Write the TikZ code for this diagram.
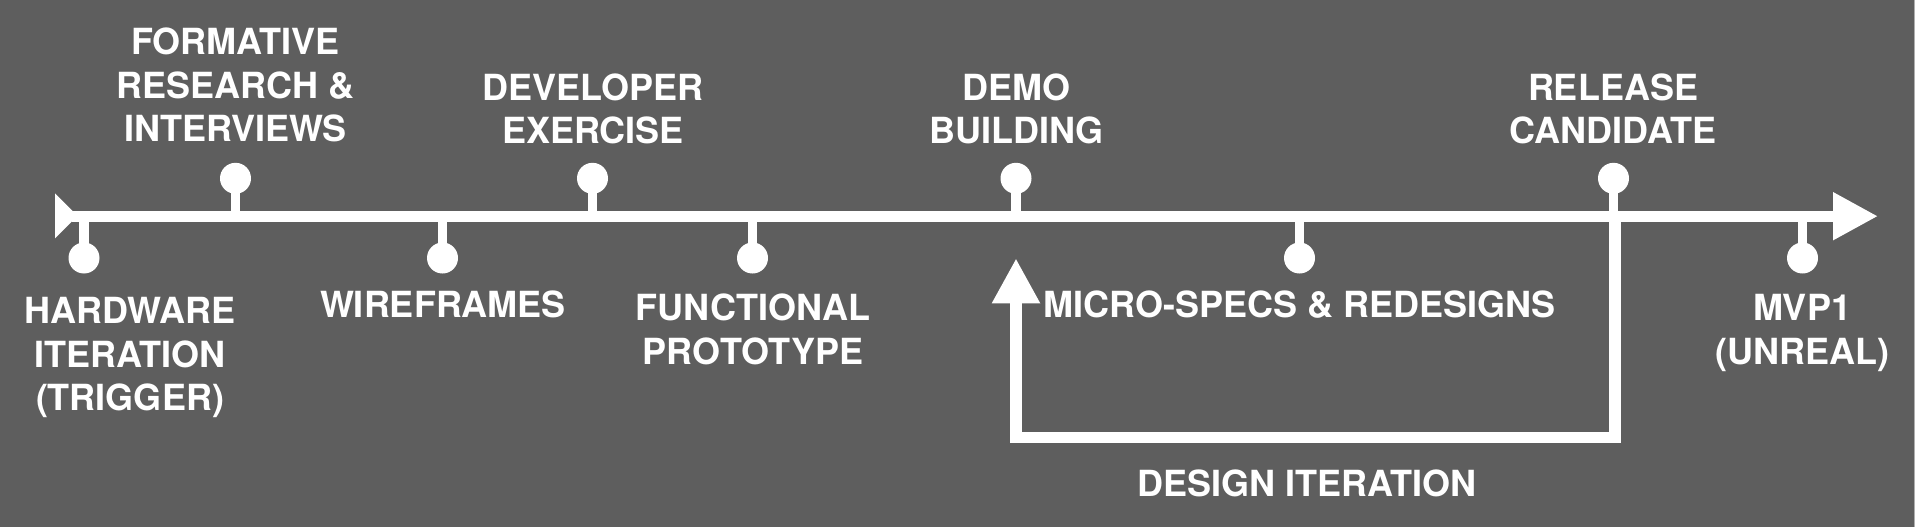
\documentclass[tikz,border=0pt]{standalone}
\usepackage{fontspec}
\setmainfont{TeX Gyre Heros}
\usetikzlibrary{arrows.meta}
\definecolor{bg}{RGB}{94,94,94}
\definecolor{edge}{RGB}{175,175,175}
\newcommand\mlines[1]{\begin{tabular}[t]{@{}c@{}}#1\end{tabular}}
\tikzset{
  lbl/.style={text=white, inner sep=0pt, anchor=base, font=\bfseries\fontsize{36}{43.5}\selectfont},
  dot/.style={circle, fill=white, inner sep=0pt, minimum size=31pt},
  stem/.style={draw=white, line width=9.5pt},
  axis/.style={draw=white, line width=11pt},
  loopline/.style={draw=white, line width=11.5pt, line join=miter},
  bigtip/.style={-{Triangle[length=45pt,width=45pt]}},
}
\begin{document}
\begin{tikzpicture}[x=1pt,y=-1pt]
\fill[bg] (0,0) rectangle (1915,527);
\fill[edge] (1913.6,0) rectangle (1915,527);
\useasboundingbox (0,0) rectangle (1915,527);

% axis
\coordinate (axstart) at (72,216.2);
\coordinate (axend) at (1878,216.2);
\fill[white] (55,193.3) -- (77.5,215.8) -- (55,238.3) -- cycle;
\draw[axis,bigtip] (axstart) -- (axend);

% milestones (up)
\node[dot] (dformative) at (235.5,178.3) {};
\node[dot] (ddeveloper) at (592.5,178.3) {};
\node[dot] (ddemo) at (1016,178.3) {};
\node[dot] (drelease) at (1613.5,178.3) {};
% milestones (down)
\node[dot] (dhardware) at (84,258) {};
\node[dot] (dwire) at (442.5,258) {};
\node[dot] (dfunc) at (752.5,258) {};
\node[dot] (dmicro) at (1299.5,258) {};
\node[dot] (dmvp) at (1802.5,258) {};

\foreach \d in {dformative,ddeveloper,ddemo,drelease,dhardware,dwire,dfunc,dmicro,dmvp}
  \draw[stem] (\d.center) -- (\d.center |- axstart);

% labels
\node[lbl] (lformative) at (235.5,55) {\mlines{FORMATIVE\\RESEARCH \&\\INTERVIEWS}};
\node[lbl] (ldeveloper) at (593,100.5) {\mlines{DEVELOPER\\EXERCISE}};
\node[lbl] (ldemo) at (1016.5,100.5) {\mlines{DEMO\\BUILDING}};
\node[lbl] (lrelease) at (1613,100.5) {\mlines{RELEASE\\CANDIDATE}};
\node[lbl] (lhardware) at (130,323.5) {\mlines{HARDWARE\\ITERATION\\(TRIGGER)}};
\node[lbl] (lwire) at (443,317.5) {WIREFRAMES};
\node[lbl] (lfunc) at (753,320.5) {\mlines{FUNCTIONAL\\PROTOTYPE}};
\node[lbl] (lmicro) at (1299.5,317.5) {MICRO-SPECS \& REDESIGNS};
\node[lbl] (lmvp) at (1802,320.5) {\mlines{MVP1\\(UNREAL)}};
\node[lbl] (ldesign) at (1307,496.5) {DESIGN ITERATION};

% design iteration loop
\coordinate (loopstart) at (1615,216.2);
\coordinate (loopR) at (1615,437.5);
\coordinate (loopL) at (1016,437.5);
\coordinate (looptip) at (1016,258.3);
\draw[loopline,bigtip] (loopstart) -- (loopR) -- (loopL) -- (looptip);
\end{tikzpicture}
\end{document}
